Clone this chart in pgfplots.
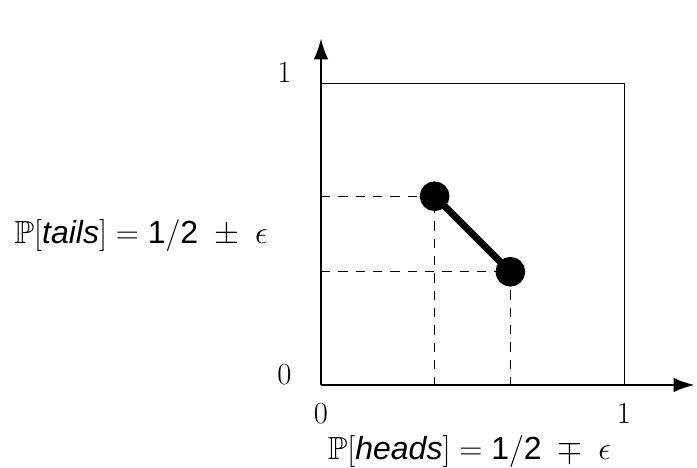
\documentclass[border=0pt]{standalone}
\usepackage{fix-cm}
\usepackage{amssymb}
\usepackage{fontspec}
\setsansfont{Liberation Sans}
\usepackage{pgfplots}
\pgfplotsset{compat=1.18}
\usetikzlibrary{arrows.meta}
\begin{document}
\begin{tikzpicture}
\useasboundingbox (-240.75pt,-62.25pt) rectangle (282pt,288.75pt);
\begin{axis}[
  x=227.25pt, y=226.5pt,
  anchor=south west, at={(0,0)},
  xmin=0, xmax=1.234, ymin=0, ymax=1.149,
  axis lines=left,
  axis line style={line width=2.2pt},
  every outer x axis line/.append style={-{Latex[length=16pt,width=11pt]}},
  every outer y axis line/.append style={-{Latex[length=16pt,width=11pt]}},
  xtick={0,1}, ytick={0,1},
  major tick length=0pt,
  tick label style={font=\fontsize{23}{27}\selectfont, inner sep=0pt},
  xticklabel style={anchor=north, yshift=-14pt},
  yticklabel style={anchor=south east, xshift=-22pt},
  clip=false,
]
\addplot[line width=0.6pt] coordinates {(0,1) (1,1) (1,0)};
\addplot[line width=0.7pt, dash pattern=on 7pt off 6pt] coordinates {(0,0.625) (0.375,0.625) (0.375,0)};
\addplot[line width=0.7pt, dash pattern=on 7pt off 6pt] coordinates {(0,0.375) (0.625,0.375) (0.625,0)};
\addplot[line width=5.2pt, mark=*, mark size=8.5pt] coordinates {(0.375,0.625) (0.625,0.375)};
\node[anchor=base, inner sep=0pt, font=\fontsize{24}{28}\selectfont] at (axis cs:0.49,-0.248)
  {$\mathbb{P}[\textsf{\itshape heads}] = \textsf{1}/\textsf{2}\;\mp\;\epsilon$};
\node[anchor=base east, inner sep=0pt, font=\fontsize{24}{28}\selectfont] at (axis cs:-0.175,0.470)
  {$\mathbb{P}[\textsf{\itshape tails}] = \textsf{1}/\textsf{2}\;\pm\;\epsilon$};
\end{axis}
\end{tikzpicture}
\end{document}
